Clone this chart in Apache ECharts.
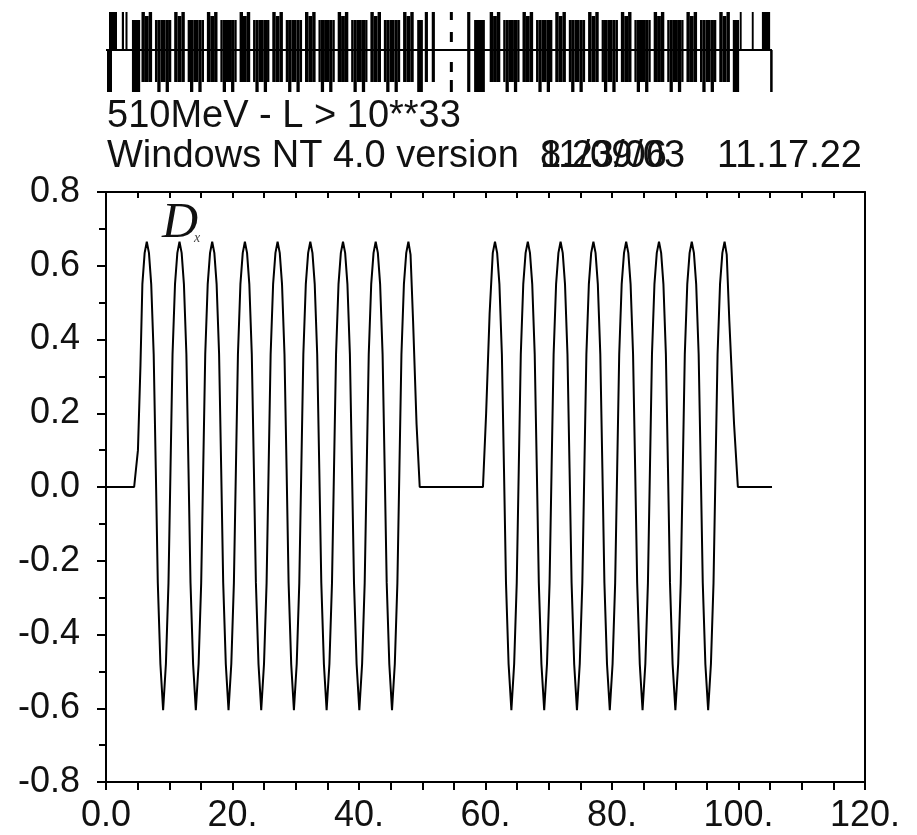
<!DOCTYPE html>
<html>
<head>
<meta charset="utf-8">
<script src="https://cdn.jsdelivr.net/npm/echarts@6/dist/echarts.min.js"></script>
<style>
html,body{margin:0;padding:0;background:#fff;}
#chart{width:917px;height:835px;}
</style>
</head>
<body>
<div id="chart"></div>
<script>
// Horizontal dispersion D_x along the ring, first half (s, D_x)
const arc1 = [
  [0,0],[4.45,0],[5.05,0.1],[5.45,0.33],[5.75,0.55],[6.11,0.635],[6.45,0.665],
  [6.79,0.635],[7.15,0.55],[7.54,0.36],[7.87,0.05],[8.19,-0.26],[8.60,-0.48],[9.03,-0.605],
  [9.47,-0.48],[9.88,-0.26],[10.20,0.05],[10.52,0.36],[10.91,0.55],[11.28,0.635],[11.62,0.665],
  [11.96,0.635],[12.32,0.55],[12.71,0.36],[13.04,0.05],[13.36,-0.26],[13.77,-0.48],[14.20,-0.605],
  [14.64,-0.48],[15.05,-0.26],[15.37,0.05],[15.69,0.36],[16.08,0.55],[16.45,0.635],[16.79,0.665],
  [17.13,0.635],[17.49,0.55],[17.88,0.36],[18.21,0.05],[18.53,-0.26],[18.94,-0.48],[19.37,-0.605],
  [19.81,-0.48],[20.22,-0.26],[20.54,0.05],[20.86,0.36],[21.25,0.55],[21.62,0.635],[21.96,0.665],
  [22.30,0.635],[22.66,0.55],[23.05,0.36],[23.38,0.05],[23.70,-0.26],[24.11,-0.48],[24.54,-0.605],
  [24.98,-0.48],[25.39,-0.26],[25.71,0.05],[26.03,0.36],[26.42,0.55],[26.79,0.635],[27.13,0.665],
  [27.47,0.635],[27.83,0.55],[28.22,0.36],[28.55,0.05],[28.87,-0.26],[29.28,-0.48],[29.71,-0.605],
  [30.15,-0.48],[30.56,-0.26],[30.88,0.05],[31.20,0.36],[31.59,0.55],[31.96,0.635],[32.30,0.665],
  [32.64,0.635],[33.00,0.55],[33.39,0.36],[33.72,0.05],[34.04,-0.26],[34.45,-0.48],[34.88,-0.605],
  [35.32,-0.48],[35.73,-0.26],[36.05,0.05],[36.37,0.36],[36.76,0.55],[37.13,0.635],[37.47,0.665],
  [37.81,0.635],[38.17,0.55],[38.56,0.36],[38.89,0.05],[39.21,-0.26],[39.62,-0.48],[40.05,-0.605],
  [40.49,-0.48],[40.90,-0.26],[41.22,0.05],[41.54,0.36],[41.93,0.55],[42.30,0.635],[42.64,0.665],
  [42.98,0.635],[43.34,0.55],[43.73,0.36],[44.06,0.05],[44.38,-0.26],[44.79,-0.48],[45.22,-0.605],
  [45.66,-0.48],[46.07,-0.26],[46.39,0.05],[46.71,0.36],[47.10,0.55],[47.47,0.635],[47.81,0.665],
  [48.15,0.63],[48.55,0.45],[49.10,0.17],[49.60,0],[59.60,0]
];

// Second half, after the straight section
const arc2 = [
  [60.10,0.2],[60.65,0.47],[61.15,0.635],[61.50,0.665],
  [61.84,0.635],[62.20,0.55],[62.59,0.36],[62.92,0.05],[63.24,-0.26],[63.65,-0.48],[64.09,-0.605],
  [64.53,-0.48],[64.94,-0.26],[65.26,0.05],[65.58,0.36],[65.97,0.55],[66.34,0.635],[66.69,0.665],
  [67.03,0.635],[67.39,0.55],[67.78,0.36],[68.11,0.05],[68.43,-0.26],[68.84,-0.48],[69.28,-0.605],
  [69.72,-0.48],[70.13,-0.26],[70.45,0.05],[70.77,0.36],[71.16,0.55],[71.53,0.635],[71.87,0.665],
  [72.21,0.635],[72.57,0.55],[72.96,0.36],[73.29,0.05],[73.61,-0.26],[74.02,-0.48],[74.46,-0.605],
  [74.90,-0.48],[75.31,-0.26],[75.63,0.05],[75.95,0.36],[76.34,0.55],[76.71,0.635],[77.06,0.665],
  [77.40,0.635],[77.76,0.55],[78.15,0.36],[78.48,0.05],[78.80,-0.26],[79.21,-0.48],[79.65,-0.605],
  [80.09,-0.48],[80.50,-0.26],[80.82,0.05],[81.14,0.36],[81.53,0.55],[81.90,0.635],[82.24,0.665],
  [82.58,0.635],[82.94,0.55],[83.33,0.36],[83.66,0.05],[83.98,-0.26],[84.39,-0.48],[84.83,-0.605],
  [85.27,-0.48],[85.68,-0.26],[86.00,0.05],[86.32,0.36],[86.71,0.55],[87.08,0.635],[87.43,0.665],
  [87.77,0.635],[88.13,0.55],[88.52,0.36],[88.85,0.05],[89.17,-0.26],[89.58,-0.48],[90.02,-0.605],
  [90.46,-0.48],[90.87,-0.26],[91.19,0.05],[91.51,0.36],[91.90,0.55],[92.27,0.635],[92.61,0.665],
  [92.95,0.635],[93.31,0.55],[93.70,0.36],[94.03,0.05],[94.35,-0.26],[94.76,-0.48],[95.20,-0.605],
  [95.64,-0.48],[96.05,-0.26],[96.37,0.05],[96.69,0.36],[97.08,0.55],[97.45,0.635],[97.80,0.665],
  [98.14,0.63],[98.55,0.45],[99.30,0.17],[99.90,0],[105.30,0]
];

// Tick labels
const xTickValues = [0, 20, 40, 60, 80, 100, 120];
const xTickLabels = ['0.0', '20.', '40.', '60.', '80.', '100.', '120.'];
const yTickValues = [-0.8, -0.6, -0.4, -0.2, 0, 0.2, 0.4, 0.6, 0.8];
const yTickLabels = ['-0.8', '-0.6', '-0.4', '-0.2', '0.0', '0.2', '0.4', '0.6', '0.8'];

// Lattice layout: quadrupole centres (s) and other elements [s0, s1, top, bottom]
const focusQuads = [6.45, 11.62, 16.79, 21.96, 27.13, 32.30, 37.47, 42.64, 47.81,
                    61.50, 66.69, 71.87, 77.06, 82.24, 87.43, 92.61, 97.80];
const defocusQuads = [9.03, 14.20, 19.37, 24.54, 29.71, 34.88, 40.05, 45.22,
                      64.09, 69.28, 74.46, 79.65, 84.83, 90.02, 95.20];
const otherElements = [
  [0.16, 0.95, 0, -42], [0.47, 1.74, 38, 0], [2.50, 2.85, 38, 0], [3.08, 3.40, 38, 0],
  [4.10, 5.40, 30, -42],
  [49.20, 50.10, 30, -42], [50.40, 50.90, 38, -32], [51.50, 52.00, 38, -32],
  [57.10, 57.60, 38, -42], [58.20, 59.90, 30, -42],
  [99.10, 100.10, 30, -42], [100.20, 100.50, 38, 0], [102.10, 102.40, 38, 0],
  [103.70, 105.00, 38, 0], [105.00, 105.40, 0, -42]
];
const latticeLength = 105.3;
const ipPosition = 54.6;

// Element outlines relative to the element centre
const focusShape = [[-0.84, -0.3, 38, -32], [-0.3, 0.3, 34, -32], [0.3, 0.84, 38, -32]];
const defocusShape = [[-1.29, -0.92, 30, -32], [-0.92, -0.4, 30, -42], [-0.4, 0.4, 30, -32],
                      [0.4, 0.92, 30, -42], [0.92, 1.29, 30, -32]];

const latticeRects = [];
focusQuads.forEach(c => focusShape.forEach(r => latticeRects.push([c + r[0], c + r[1], r[2], r[3]])));
defocusQuads.forEach(c => defocusShape.forEach(r => latticeRects.push([c + r[0], c + r[1], r[2], r[3]])));
otherElements.forEach(r => latticeRects.push(r));

const FONT = '"Liberation Sans", Arial, Helvetica, sans-serif';
const INK = '#111';
const axisLineStyle = { color: '#000', width: 2 };
const headerFont = '38px ' + FONT;

const chart = echarts.init(document.getElementById('chart'), null, { renderer: 'canvas' });

chart.setOption({
  animation: false,
  backgroundColor: '#fff',
  grid: [
    { left: 106, right: 52, top: 192, bottom: 53 },
    { left: 106, right: 52, top: 12, height: 80 }
  ],
  xAxis: [
    {
      gridIndex: 0, type: 'value', min: 0, max: 120, interval: 20,
      axisLine: { show: true, onZero: false, lineStyle: axisLineStyle },
      axisTick: { show: true, length: 8, lineStyle: axisLineStyle },
      minorTick: { show: true, splitNumber: 4, length: 8, lineStyle: axisLineStyle },
      splitLine: { show: false },
      axisLabel: {
        margin: 16, fontFamily: FONT, fontSize: 36, color: INK,
        formatter: v => { const i = xTickValues.indexOf(v); return i >= 0 ? xTickLabels[i] : ''; }
      }
    },
    {
      gridIndex: 0, type: 'value', position: 'top', min: 0, max: 120, interval: 5,
      axisLine: { show: true, onZero: false, lineStyle: axisLineStyle },
      axisTick: { show: true, inside: true, length: 6, lineStyle: axisLineStyle },
      axisLabel: { show: false },
      splitLine: { show: false }
    },
    { gridIndex: 1, type: 'value', min: 0, max: 120, show: false }
  ],
  yAxis: [
    {
      gridIndex: 0, type: 'value', min: -0.8, max: 0.8, interval: 0.2,
      axisLine: { show: true, onZero: false, lineStyle: axisLineStyle },
      axisTick: { show: true, length: 9, lineStyle: axisLineStyle },
      minorTick: { show: true, splitNumber: 2, length: 7, lineStyle: axisLineStyle },
      splitLine: { show: false },
      axisLabel: {
        margin: 26, fontFamily: FONT, fontSize: 36, color: INK,
        formatter: v => {
          const i = yTickValues.findIndex(t => Math.abs(t - v) < 1e-9);
          return i >= 0 ? yTickLabels[i] : '';
        }
      }
    },
    {
      gridIndex: 0, type: 'value', position: 'right', min: -0.8, max: 0.8,
      axisLine: { show: true, onZero: false, lineStyle: axisLineStyle },
      axisTick: { show: false }, axisLabel: { show: false }, splitLine: { show: false }
    },
    { gridIndex: 1, type: 'value', min: -42, max: 38, show: false }
  ],
  graphic: [
    { type: 'text', x: 107, y: 117, style: { text: '510MeV - L > 10**33', font: headerFont, fill: INK, align: 'left', verticalAlign: 'middle' } },
    { type: 'text', x: 107, y: 157, style: { text: 'Windows NT 4.0 version', font: headerFont, fill: INK, align: 'left', verticalAlign: 'middle' } },
    { type: 'text', x: 540, y: 157, style: { text: '8.23/06', font: headerFont, fill: INK, align: 'left', verticalAlign: 'middle' } },
    { type: 'text', x: 540, y: 157, style: { text: '11/09/03', font: headerFont, fill: INK, align: 'left', verticalAlign: 'middle' } },
    { type: 'text', x: 862, y: 157, style: { text: '11.17.22', font: headerFont, fill: INK, align: 'right', verticalAlign: 'middle' } },
    { type: 'text', x: 162, y: 224, style: { text: 'D', font: 'italic 50px "Liberation Serif", "DejaVu Serif", serif', fill: INK, align: 'left', verticalAlign: 'middle' } },
    { type: 'text', x: 194, y: 238, style: { text: 'x', font: 'italic 14px "Liberation Serif", "DejaVu Serif", serif', fill: '#444', align: 'left', verticalAlign: 'middle' } }
  ],
  series: [
    {
      type: 'line', xAxisIndex: 0, yAxisIndex: 0,
      data: arc1.concat(arc2),
      showSymbol: false, symbol: 'none',
      lineStyle: { color: '#000', width: 2 },
      silent: true
    },
    {
      type: 'line', xAxisIndex: 2, yAxisIndex: 2,
      data: [[0, 0], [latticeLength, 0]],
      showSymbol: false, symbol: 'none',
      lineStyle: { color: '#000', width: 2 },
      silent: true
    },
    {
      type: 'line', xAxisIndex: 2, yAxisIndex: 2,
      data: [[ipPosition, 38], [ipPosition, -42]],
      showSymbol: false, symbol: 'none',
      lineStyle: { color: '#000', width: 3, type: [8, 12, 10, 20, 10, 8, 12] },
      silent: true
    },
    {
      type: 'custom', xAxisIndex: 2, yAxisIndex: 2,
      data: latticeRects,
      encode: { x: [0, 1], y: [2, 3] },
      clip: false, silent: true,
      renderItem: (params, api) => {
        const p0 = api.coord([api.value(0), api.value(2)]);
        const p1 = api.coord([api.value(1), api.value(3)]);
        return {
          type: 'rect',
          shape: { x: p0[0], y: p0[1], width: p1[0] - p0[0], height: p1[1] - p0[1] },
          style: { fill: '#000' }
        };
      }
    }
  ]
});
</script>
</body>
</html>
